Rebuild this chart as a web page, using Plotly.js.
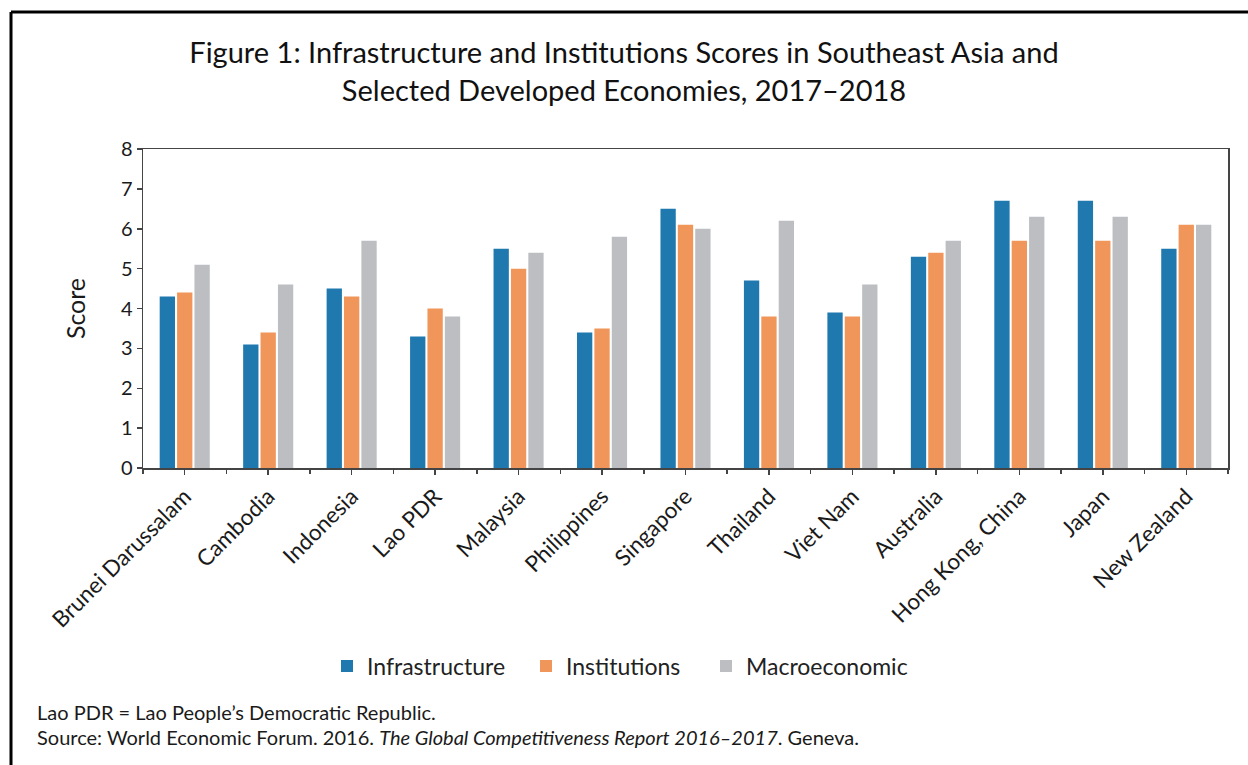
<!DOCTYPE html>
<html>
<head>
<meta charset="utf-8">
<script src="https://cdn.plot.ly/plotly-3.0.1.min.js"></script>
<style>
  html, body { margin: 0; padding: 0; background: #fff; }
  #chart { width: 1248px; height: 765px; }
</style>
</head>
<body>
<div id="chart"></div>
<script>
const categories = ["Brunei Darussalam", "Cambodia", "Indonesia", "Lao PDR", "Malaysia", "Philippines",
  "Singapore", "Thailand", "Viet Nam", "Australia", "Hong Kong, China", "Japan", "New Zealand"];
const infrastructure = [4.3, 3.1, 4.5, 3.3, 5.5, 3.4, 6.5, 4.7, 3.9, 5.3, 6.7, 6.7, 5.5];
const institutions   = [4.4, 3.4, 4.3, 4.0, 5.0, 3.5, 6.1, 3.8, 3.8, 5.4, 5.7, 5.7, 6.1];
const macroeconomic  = [5.1, 4.6, 5.7, 3.8, 5.4, 5.8, 6.0, 6.2, 4.6, 5.7, 6.3, 6.3, 6.1];
const seriesNames = ["Infrastructure", "Institutions", "Macroeconomic"];
const yTicks = [0, 1, 2, 3, 4, 5, 6, 7, 8];

const FONT = "Lato, 'Open Sans', sans-serif";
const colors = ["#1F79AF", "#F0965A", "#BCBEC2"];

const W = 1248, H = 765;
const L = 143, R = 20, T = 149, B = 297;
const pw = W - L - R, ph = H - T - B;
const px = v => (v - L) / pw;
const py = v => (H - B - v) / ph;

const legendIds = ["legend", "legend2", "legend3"];
const traces = [infrastructure, institutions, macroeconomic].map((vals, i) => ({
  type: "bar",
  name: seriesNames[i],
  x: categories,
  y: vals,
  marker: { color: colors[i] },
  legend: legendIds[i],
  hoverinfo: "x+y+name"
}));
traces.push({
  type: "scatter", mode: "markers", x: categories, y: categories.map(() => null),
  xaxis: "x2", yaxis: "y", showlegend: false, hoverinfo: "skip"
});

const legendStyle = xPix => ({
  orientation: "h", x: px(xPix), xanchor: "left", y: py(666), yanchor: "middle",
  font: { family: FONT, size: 23, color: "#222" },
  itemwidth: 30, bgcolor: "rgba(0,0,0,0)"
});

const layout = {
  width: W, height: H,
  margin: { l: L, r: R, t: T, b: B, pad: 0 },
  paper_bgcolor: "#fff", plot_bgcolor: "#fff",
  font: { family: FONT, color: "#1a1a1a" },
  title: {
    text: "Figure 1: Infrastructure and Institutions Scores in Southeast Asia and<br>Selected Developed Economies, 2017–2018",
    font: { family: FONT, size: 29, color: "#111" },
    x: 0.5, xanchor: "center", xref: "container",
    y: 1 - 63 / H, yanchor: "middle", yref: "container"
  },
  barmode: "group",
  bargap: 0.375,
  bargroupgap: 0.12,
  showlegend: true,
  legend: legendStyle(327),
  legend2: legendStyle(526),
  legend3: legendStyle(706),
  xaxis: {
    type: "category",
    categoryorder: "array", categoryarray: categories,
    range: [-0.5, categories.length - 0.5],
    showline: true, linecolor: "#444", linewidth: 1.5, mirror: true,
    ticks: "outside", ticklen: 5, tickcolor: "#444", tickwidth: 1.5,
    tickangle: -45,
    tickfont: { family: FONT, size: 22.5, color: "#1a1a1a" },
    showgrid: false, zeroline: false
  },
  xaxis2: {
    type: "category", overlaying: "x", anchor: "y", side: "bottom",
    categoryorder: "array", categoryarray: categories,
    range: [-0.5, categories.length - 0.5],
    tickson: "boundaries",
    ticks: "outside", ticklen: 5, tickcolor: "#444", tickwidth: 1.5,
    showticklabels: false, showline: false, showgrid: false, zeroline: false
  },
  yaxis: {
    range: [0, 8],
    tickvals: yTicks, ticktext: yTicks.map(String),
    showline: true, linecolor: "#444", linewidth: 1.5, mirror: true,
    ticks: "outside", ticklen: 5, tickcolor: "#444", tickwidth: 1.5,
    tickfont: { family: FONT, size: 20, color: "#1a1a1a" },
    showgrid: false, zeroline: false,
    title: { text: "Score", font: { family: FONT, size: 25, color: "#1a1a1a" }, standoff: 28 }
  },
  annotations: [
    { text: "Lao PDR = Lao People’s Democratic Republic.", xref: "paper", yref: "paper",
      x: px(35), y: py(712), xanchor: "left", yanchor: "middle", showarrow: false,
      font: { family: FONT, size: 20, color: "#1a1a1a" } },
    { text: "Source: World Economic Forum. 2016. <i>The Global Competitiveness Report 2016–2017</i>. Geneva.",
      xref: "paper", yref: "paper",
      x: px(35), y: py(737), xanchor: "left", yanchor: "middle", showarrow: false,
      font: { family: FONT, size: 20, color: "#1a1a1a" } }
  ],
  shapes: [
    { type: "line", xref: "paper", yref: "paper", x0: px(11), y0: py(12), x1: px(W + 5), y1: py(12),
      line: { color: "#000", width: 3 } },
    { type: "line", xref: "paper", yref: "paper", x0: px(11), y0: py(12), x1: px(11), y1: py(H + 5),
      line: { color: "#000", width: 3 } }
  ]
};

Plotly.newPlot("chart", traces, layout, { displayModeBar: false, staticPlot: true });
</script>
</body>
</html>
